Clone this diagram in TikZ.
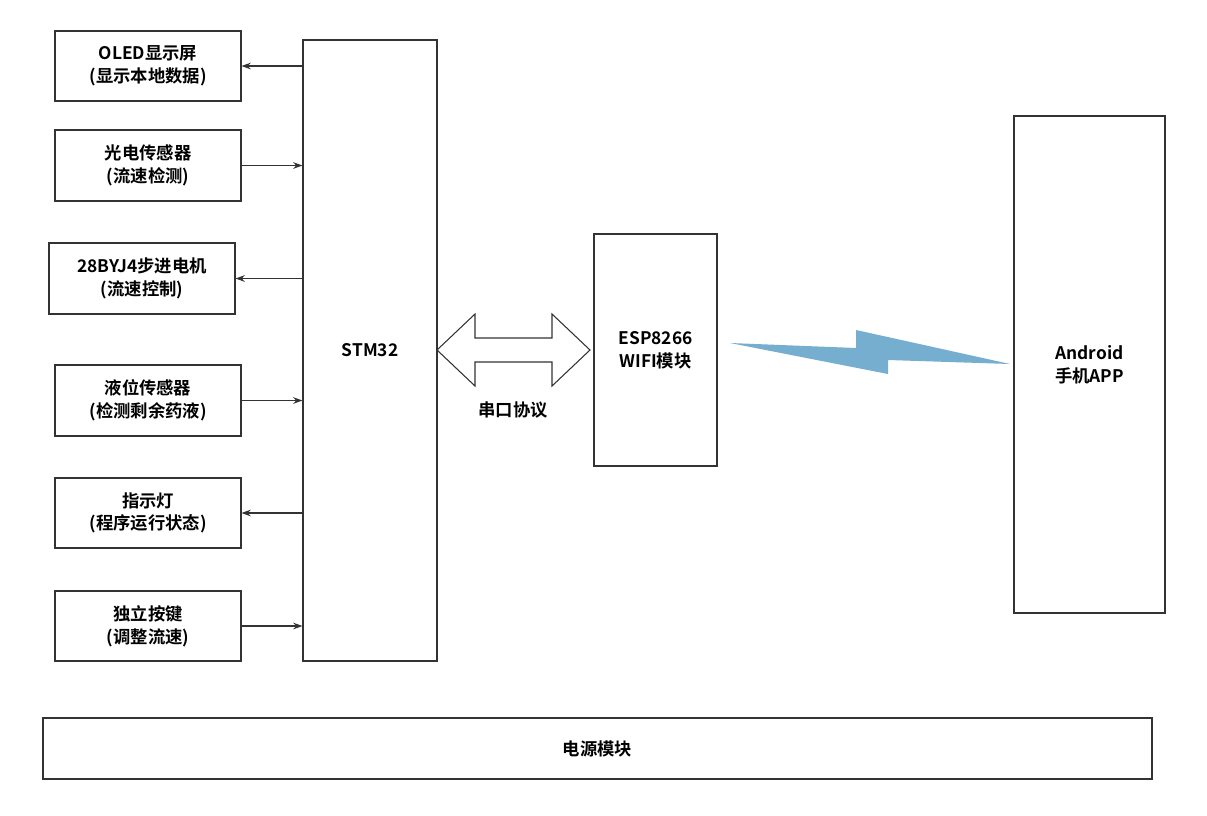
\documentclass[tikz,border=0pt]{standalone}
\usepackage{fontspec}
\setmainfont{Noto Sans CJK SC}[BoldFont={* Bold}]
\usetikzlibrary{arrows.meta}
\tikzset{
    box/.style={draw=black!80, thick, align=center, font=\bfseries\fontsize{13}{17}\selectfont, inner sep=0pt},
    link/.style={-{Stealth[length=7pt,width=5pt]}, thick, draw=black!80},
}
\begin{document}
\begin{tikzpicture}[x=0.75pt, y=-0.75pt]
\useasboundingbox (0,0) rectangle (1207,815);
% main blocks
\node[box, minimum width=134*0.75pt, minimum height=621*0.75pt] (stm) at (370,350.5) {STM32};
\node[box, minimum width=123*0.75pt, minimum height=232*0.75pt] (esp) at (655.5,350) {ESP8266\\WIFI模块};
\node[box, minimum width=151*0.75pt, minimum height=497*0.75pt] (app) at (1089.5,364.5) {Android\\手机APP};
\node[box, minimum width=1109*0.75pt, minimum height=61*0.75pt] (pwr) at (597.5,748.5) {电源模块};
% left modules
\node[box, minimum width=186*0.75pt, minimum height=70*0.75pt] (oled) at (148,66) {OLED显示屏\\(显示本地数据)};
\node[box, minimum width=186*0.75pt, minimum height=71*0.75pt] (light) at (148,165.5) {光电传感器\\(流速检测)};
\node[box, minimum width=186*0.75pt, minimum height=71*0.75pt] (motor) at (142,278.5) {28BYJ4步进电机\\(流速控制)};
\node[box, minimum width=186*0.75pt, minimum height=71*0.75pt] (level) at (148,400.5) {液位传感器\\(检测剩余药液)};
\node[box, minimum width=186*0.75pt, minimum height=70*0.75pt] (led) at (148,513) {指示灯\\(程序运行状态)};
\node[box, minimum width=186*0.75pt, minimum height=70*0.75pt] (key) at (148,626) {独立按键\\(调整流速)};
\draw[link] (stm.west |- oled) -- (oled.east);
\draw[link] (light.east) -- (stm.west |- light);
\draw[link] (stm.west |- motor) -- (motor.east);
\draw[link] (level.east) -- (stm.west |- level);
\draw[link] (stm.west |- led) -- (led.east);
\draw[link] (key.east) -- (stm.west |- key);
% serial link
\draw[thick, draw=black!80] (437,350) -- (475,314) -- (475,338) -- (552,338) -- (552,314) -- (590,350)
    -- (552,386) -- (552,362) -- (475,362) -- (475,386) -- cycle;
\node[font=\bfseries\fontsize{13}{17}\selectfont] (uart) at (513,410) {串口协议};
% wireless
\fill[fill={rgb,255:red,117;green,174;blue,206}] (730,343) -- (856,348) -- (856,330) -- (1010,364) -- (888,360) -- (888,374) -- cycle;
\end{tikzpicture}
\end{document}
